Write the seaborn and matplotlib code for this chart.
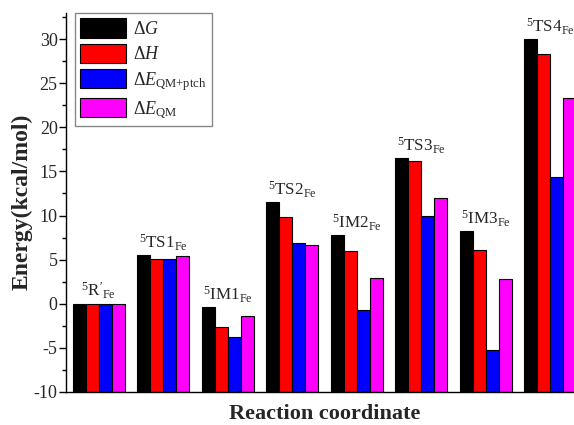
import matplotlib
matplotlib.use("Agg")
import matplotlib.pyplot as plt
import seaborn as sns
import pandas as pd
from matplotlib.ticker import MultipleLocator
from matplotlib.patches import Patch

# ---- data ----
categories = ["R'", "TS1", "IM1", "TS2", "IM2", "TS3", "IM3", "TS4"]
cat_labels = [r"$^{5}\mathrm{R'}_{\mathrm{Fe}}$", r"$^{5}\mathrm{TS1}_{\mathrm{Fe}}$",
              r"$^{5}\mathrm{IM1}_{\mathrm{Fe}}$", r"$^{5}\mathrm{TS2}_{\mathrm{Fe}}$",
              r"$^{5}\mathrm{IM2}_{\mathrm{Fe}}$", r"$^{5}\mathrm{TS3}_{\mathrm{Fe}}$",
              r"$^{5}\mathrm{IM3}_{\mathrm{Fe}}$", r"$^{5}\mathrm{TS4}_{\mathrm{Fe}}$"]
series_names = [r"$\Delta G$", r"$\Delta H$", r"$\Delta E_{\mathrm{QM{+}ptch}}$", r"$\Delta E_{\mathrm{QM}}$"]
dG = [0.0, 5.5, -0.4, 11.55, 7.75, 16.55, 8.25, 30.0]
dH = [0.0, 5.1, -2.7, 9.85, 6.0, 16.15, 6.1, 28.35]
dE_ptch = [0.0, 5.1, -3.75, 6.9, -0.75, 10.0, -5.3, 14.35]
dE_qm = [0.0, 5.4, -1.45, 6.6, 2.9, 12.0, 2.75, 23.3]
colors = ["#000000", "#ff0000", "#0000ff", "#ff00ff"]
baseline = -10  # bars are drawn up from the bottom of the axis

sns.set_theme(style="white")
plt.rcParams["font.family"] = ["Liberation Serif", "DejaVu Serif"]
plt.rcParams["mathtext.fontset"] = "custom"
plt.rcParams["mathtext.rm"] = "Liberation Serif"
plt.rcParams["mathtext.it"] = "Liberation Serif:italic"
plt.rcParams["mathtext.bf"] = "Liberation Serif:bold"
plt.rcParams["axes.unicode_minus"] = False

rows = []
for ser, vals in zip(series_names, [dG, dH, dE_ptch, dE_qm]):
    for c, v in zip(categories, vals):
        rows.append({"cat": c, "series": ser, "val": v, "height": v - baseline})
df = pd.DataFrame(rows)

fig = plt.figure(figsize=(5.74, 4.25), dpi=100)
ax = fig.add_axes([66/574, (425-391.6)/425, (583-66)/574, (391.6-13)/425])

sns.barplot(data=df, x="cat", y="height", hue="series", order=categories,
            hue_order=series_names, palette=colors, saturation=1,
            edgecolor="black", linewidth=0.8, width=0.81, ax=ax, errorbar=None,
            bottom=baseline, legend=False)

ax.set_xlim(-0.51, 7.51)
ax.set_ylim(-10, 33)
ax.yaxis.set_major_locator(MultipleLocator(5))
ax.yaxis.set_minor_locator(MultipleLocator(2.5))
ax.set_xticks([])
for s in ["top", "right"]:
    ax.spines[s].set_visible(False)
for s in ["left", "bottom"]:
    ax.spines[s].set_color("black")
    ax.spines[s].set_linewidth(1.0)
ax.tick_params(axis="y", which="major", direction="out", length=5, width=1,
               color="black", labelsize=13, pad=1, left=True)
ax.tick_params(axis="y", which="minor", direction="out", length=3, width=1,
               color="black", left=True)
ax.set_ylabel("Energy(kcal/mol)", fontsize=17, fontweight="bold", labelpad=1)
ax.set_xlabel("Reaction coordinate", fontsize=16, fontweight="bold", labelpad=9)

all_vals = [dG, dH, dE_ptch, dE_qm]
for i, lab in enumerate(cat_labels):
    top = max(v[i] for v in all_vals)
    ax.annotate(lab, xy=(i, top), xytext=(0, 1.5), textcoords="offset points",
                ha="center", va="bottom", fontsize=12.3)

handles = [Patch(facecolor=c, edgecolor="black", linewidth=0.8) for c in colors]
leg = ax.legend(handles, series_names, loc="upper left", bbox_to_anchor=(0.0174, 1.0),
                borderaxespad=0, fontsize=13, handlelength=2.5, handleheight=1.25,
                labelspacing=0.32, handletextpad=0.4, borderpad=0.3,
                frameon=True, fancybox=False, edgecolor="#888888", framealpha=1)
leg.get_frame().set_linewidth(1.0)

fig.savefig("out.png", dpi=100)
